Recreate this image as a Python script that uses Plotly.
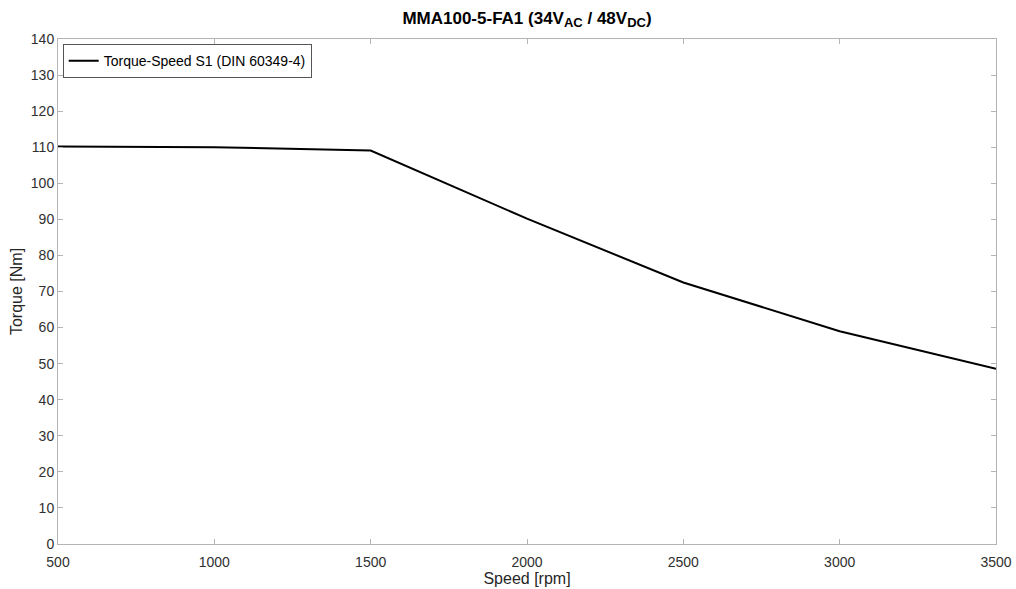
import plotly.graph_objects as go

speed = [500, 1000, 1500, 2000, 2500, 3000, 3500]
torque = [110.2, 110.0, 109.1, 90.2, 72.5, 59.0, 48.6]
series_name = "Torque-Speed S1 (DIN 60349-4)"
title_text = ("MMA100-5-FA1 (34V<sub><span style='font-size:13px'>AC</span></sub> / "
              "48V<sub><span style='font-size:13px'>DC</span></sub>)")
x_ticks = [500, 1000, 1500, 2000, 2500, 3000, 3500]
y_ticks = list(range(0, 141, 10))

FONT = "Liberation Sans, Arial"

fig = go.Figure()
fig.add_trace(go.Scatter(x=speed, y=torque, mode="lines", name=series_name,
                         line=dict(color="#000000", width=2)))

axis_common = dict(showline=True, linecolor="#b4b4b4", linewidth=1, mirror="ticks",
                   ticks="inside", ticklen=5, tickcolor="#b4b4b4", showgrid=False,
                   zeroline=False, automargin=False,
                   tickfont=dict(family=FONT, size=14, color="#303030"))

fig.update_layout(
    width=1016, height=589,
    margin=dict(l=58, r=20, t=39, b=45, autoexpand=False),
    paper_bgcolor="white", plot_bgcolor="white",
    title=dict(text=title_text, x=0.5, xref="paper", xanchor="center", y=0.98, yref="container",
               yanchor="top",
               font=dict(family=FONT, size=17, color="#000000", weight="bold")),
    xaxis=dict(range=[500, 3500], tickvals=x_ticks, ticklabelstandoff=5,
               title=dict(text="Speed [rpm]", standoff=0, font=dict(family=FONT, size=16, color="#262626")),
               **axis_common),
    yaxis=dict(range=[0, 140], tickvals=y_ticks,
               title=dict(text="Torque [Nm]", standoff=4, font=dict(family=FONT, size=16, color="#262626")),
               **axis_common),
    showlegend=True,
    legend=dict(x=0.005, y=0.99, xanchor="left", yanchor="top", bgcolor="white",
                bordercolor="#555555", borderwidth=1, tracegroupgap=0,
                font=dict(family=FONT, size=14, color="#000000"),
                itemwidth=30),
)

fig.write_html("out.html")
